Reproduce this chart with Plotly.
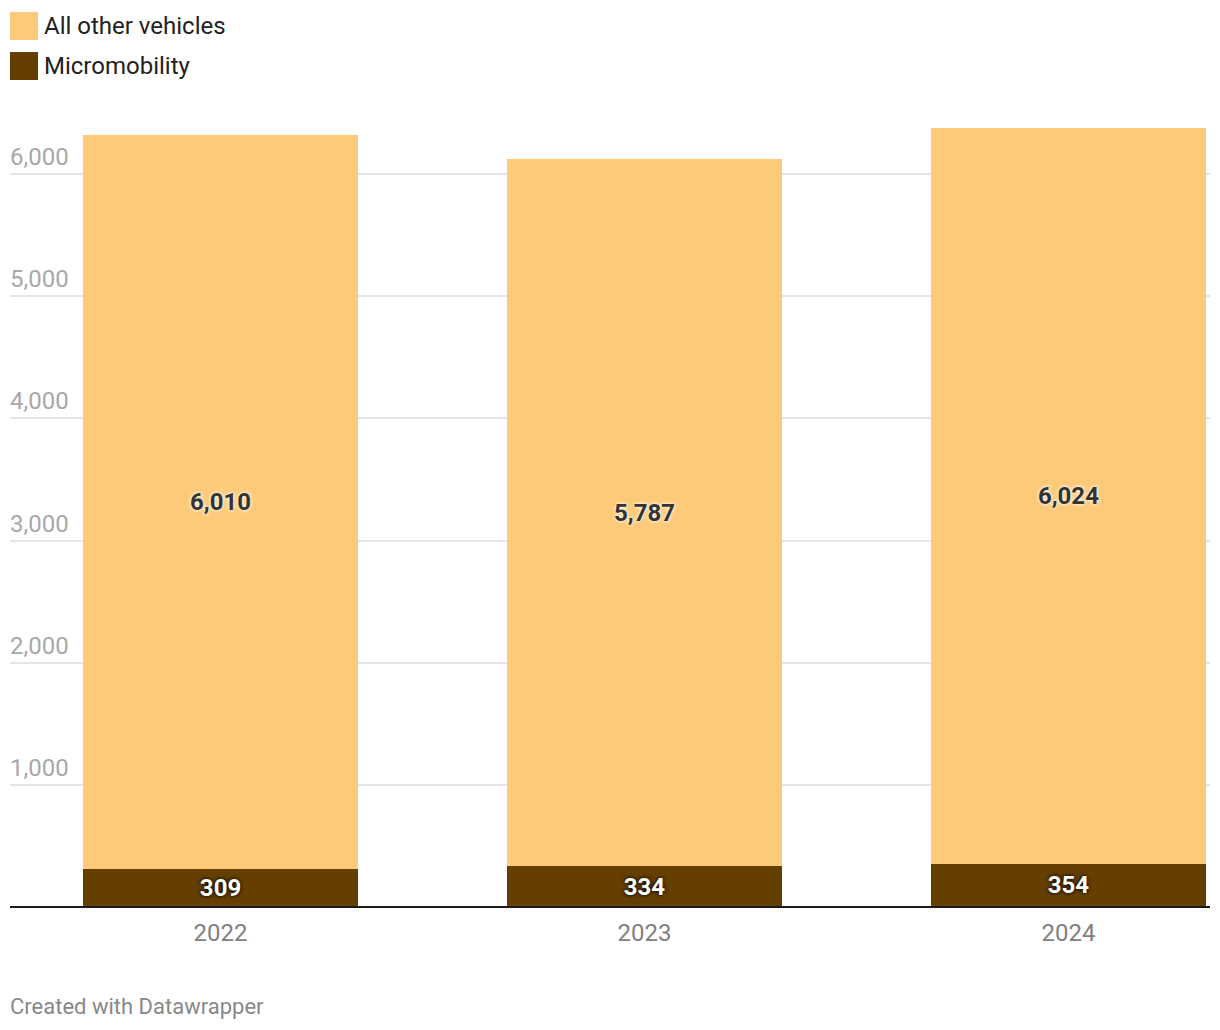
import plotly.graph_objects as go

# ---- data ----
years = ["2022", "2023", "2024"]
micromobility = [309, 334, 354]
other_vehicles = [6010, 5787, 6024]
series_names = ["All other vehicles", "Micromobility"]
y_tick_values = [1000, 2000, 3000, 4000, 5000, 6000]
y_tick_labels = ["1,000", "2,000", "3,000", "4,000", "5,000", "6,000"]

# ---- style ----
W, H = 1220, 1030
M_L, M_R, M_T, M_B = 10, 10, 113, 123
COL_OTHER = "#fdca79"
COL_MICRO = "#643f00"
FONT = "Roboto"

def px_to_paper_y(py):
    return (H - M_B - py) / (H - M_T - M_B)

def px_to_paper_x(px):
    return (px - M_L) / (W - M_L - M_R)

fig = go.Figure()
fig.add_trace(go.Bar(
    x=years, y=micromobility, name=series_names[1],
    marker=dict(color=COL_MICRO, line=dict(width=0)),
    text=[f"{v:,}" for v in micromobility],
    textposition="inside", insidetextanchor="middle",
    textfont=dict(family=FONT, size=24, color="white", weight="bold",
                  shadow="0px 0px 4px #000000, 0px 0px 2px #2a1a00"),
    constraintext="none", width=0.6486, showlegend=False,
))
fig.add_trace(go.Bar(
    x=years, y=other_vehicles, name=series_names[0],
    marker=dict(color=COL_OTHER, line=dict(width=0)),
    text=[f"{v:,}" for v in other_vehicles],
    textposition="inside", insidetextanchor="middle",
    textfont=dict(family=FONT, size=24, color="#333333", weight="bold",
                  shadow="0px 0px 4px #ffffff, 0px 0px 2px #ffffff"),
    constraintext="none", width=0.6486, showlegend=False,
))

# y tick labels (Datawrapper style, sitting above gridlines)
for v, lab in zip(y_tick_values, y_tick_labels):
    fig.add_annotation(x=0, xref="paper", y=v, yref="y", text=lab,
                       showarrow=False, xanchor="left", yanchor="bottom",
                       yshift=1, xshift=-2, font=dict(family=FONT, size=24, color="#a8a8a8"))

# custom legend
legend_items = [(series_names[0], COL_OTHER), (series_names[1], COL_MICRO)]
for i, (name, col) in enumerate(legend_items):
    top = 12 + i * 40
    fig.add_shape(type="rect", xref="paper", yref="paper",
                  x0=px_to_paper_x(10), x1=px_to_paper_x(38),
                  y0=px_to_paper_y(top + 28), y1=px_to_paper_y(top),
                  fillcolor=col, line=dict(width=0))
    fig.add_annotation(x=px_to_paper_x(42), y=px_to_paper_y(top + 14),
                       xref="paper", yref="paper", text=name, showarrow=False,
                       xanchor="left", yanchor="middle",
                       font=dict(family=FONT, size=24, color="#222222"))

# baseline
fig.add_shape(type="line", xref="paper", yref="paper", x0=0, x1=1, y0=0, y1=0,
              line=dict(color="#1a1a1a", width=2), layer="above")

# footer
fig.add_annotation(x=px_to_paper_x(8), y=px_to_paper_y(1006), xref="paper", yref="paper",
                   text="Created with Datawrapper", showarrow=False,
                   xanchor="left", yanchor="middle",
                   font=dict(family=FONT, size=22, color="#888888"))

fig.update_layout(
    barmode="stack", width=W, height=H,
    margin=dict(l=M_L, r=M_R, t=M_T, b=M_B),
    paper_bgcolor="white", plot_bgcolor="white",
    font=dict(family=FONT),
    uniformtext=dict(minsize=24, mode="show"),
    showlegend=False,
)
fig.update_xaxes(type="category", range=[-0.4965, 2.3337], showgrid=False,
                 showline=False, zeroline=False, ticks="",
                 tickfont=dict(family=FONT, size=24, color="#808080"),
                 ticklabelstandoff=9)
fig.update_yaxes(range=[0, 6500], tickvals=y_tick_values, showticklabels=False,
                 showgrid=True, gridcolor="#e5e5e5", gridwidth=2,
                 zeroline=False, showline=False, ticks="")

fig.write_html("out.html", config={"displayModeBar": False},
               post_script="document.body.style.margin='0';document.body.style.overflow='hidden';")
